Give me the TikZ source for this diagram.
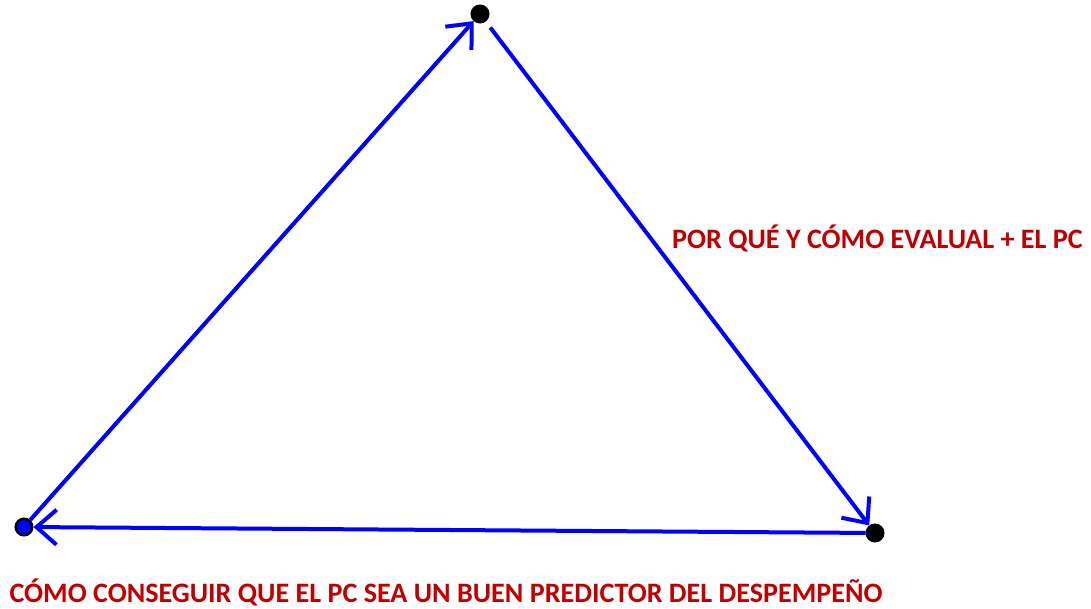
\documentclass[tikz,border=0pt]{standalone}
\usepackage{fontspec}
\setmainfont{Carlito}
\usetikzlibrary{arrows.meta}
\definecolor{titlered}{RGB}{192,0,0}
\tikzset{
	vertex/.style={circle, draw=black, line width=0.5mm, inner sep=0pt, minimum size=3.3mm},
	side/.style={line width=0.8mm, color=blue, -{Straight Barb[length=4mm, width=7mm, line width=0.8mm]}},
	caption/.style={font=\bfseries\fontsize{16}{19}\selectfont, text=titlered, inner sep=0pt}
}

\begin{document}
\begin{tikzpicture}
			%%%%% START %%%%%
			\useasboundingbox (0, 0) rectangle (21.82, 12.18);
			
			\node[vertex, fill=black] (top) at (9.6, 11.9) {};
			\node[vertex, fill=black] (right) at (17.5, 1.52) {};
			\node[vertex, fill=blue] (left) at (0.48, 1.64) {};
			
			\draw[side] (left) -- (top);
			\draw[side, shorten <=1.5mm] (top) -- (right);
			\draw[side] (right) -- (left);
			
			\node[caption] (why) at (17.55, 7.42) {POR QUÉ Y CÓMO EVALUAL + EL PC};
			\node[caption] (how) at (8.92, 0.34) {CÓMO CONSEGUIR QUE EL PC SEA UN BUEN PREDICTOR DEL DESPEMPEÑO};
			%%%%% END %%%%%
\end{tikzpicture}
\end{document}
